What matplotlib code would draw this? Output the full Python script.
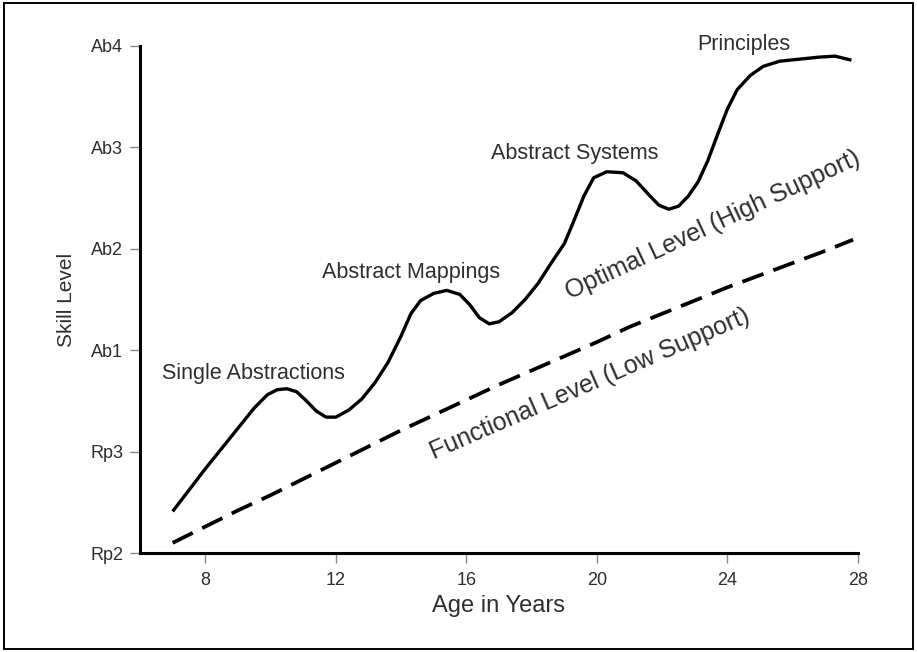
import matplotlib
matplotlib.use('Agg')
import matplotlib.pyplot as plt
from matplotlib.patches import Rectangle

plt.rcParams['font.family'] = ['Liberation Sans', 'DejaVu Sans']

# skill levels on the y axis (Rp2 .. Ab4 -> 0 .. 5)
level_names = ['Rp2', 'Rp3', 'Ab1', 'Ab2', 'Ab3', 'Ab4']
age_ticks = [8, 12, 16, 20, 24, 28]

# optimal level (high support)
opt_age = [7.0, 7.5, 8.0, 8.5, 9.0, 9.5, 9.9, 10.2, 10.5, 10.8, 11.1, 11.4, 11.7,
           12.0, 12.4, 12.8, 13.2, 13.6, 14.0, 14.3, 14.6, 15.0, 15.4, 15.8, 16.1,
           16.4, 16.7, 17.0, 17.4, 17.8, 18.2, 18.6, 19.0, 19.3, 19.6, 19.9, 20.3,
           20.8, 21.2, 21.6, 21.9, 22.2, 22.5, 22.8, 23.1, 23.4, 23.7, 24.0, 24.3,
           24.7, 25.1, 25.6, 26.2, 26.8, 27.3, 27.8]
opt_level = [0.41, 0.62, 0.83, 1.03, 1.23, 1.43, 1.56, 1.61, 1.62, 1.59, 1.50, 1.40, 1.34,
             1.34, 1.41, 1.52, 1.68, 1.88, 2.14, 2.36, 2.49, 2.56, 2.59, 2.55, 2.45,
             2.32, 2.26, 2.28, 2.37, 2.50, 2.66, 2.86, 3.05, 3.28, 3.52, 3.70, 3.76,
             3.75, 3.67, 3.53, 3.43, 3.39, 3.42, 3.52, 3.66, 3.87, 4.13, 4.38, 4.57,
             4.71, 4.80, 4.85, 4.87, 4.89, 4.90, 4.86]

# functional level (low support)
fun_age = [7.0, 8, 9, 10, 11, 12, 13, 14, 15, 16, 17, 18, 19, 20, 21, 22, 23, 24,
           25, 26, 27, 27.85]
fun_level = [0.10, 0.26, 0.42, 0.57, 0.73, 0.89, 1.05, 1.21, 1.36, 1.51, 1.66, 1.80,
             1.94, 2.08, 2.23, 2.36, 2.49, 2.62, 2.74, 2.86, 2.98, 3.09]

stage_names = ['Single Abstractions', 'Abstract Mappings', 'Abstract Systems', 'Principles']
stage_x = [9.48, 14.31, 19.33, 24.51]
stage_y = [1.77, 2.77, 3.94, 5.01]

txt = '#2e2e2e'

fig = plt.figure(figsize=(9.17, 6.52), dpi=100)
fig.patches.append(Rectangle((0.004, 0.005), 0.992, 0.99, transform=fig.transFigure,
                             fill=False, edgecolor='black', linewidth=1.4))
ax = fig.add_axes([140/917, 1 - 553/652, 718/917, 507/652])

ax.plot(opt_age, opt_level, color='black', lw=2.4, solid_capstyle='butt')
ax.plot(fun_age, fun_level, color='black', lw=2.7, dashes=(6, 2.8), dash_capstyle='butt')

for name, x, y in zip(stage_names, stage_x, stage_y):
    ax.text(x, y, name, ha='center', va='center', fontsize=15.5, color=txt)

ax.text(23.54, 3.23, 'Optimal Level (High Support)', rotation=25, rotation_mode='anchor',
        ha='center', va='center', fontsize=18, color=txt)
ax.text(19.8, 1.67, 'Functional Level (Low Support)', rotation=23.5, rotation_mode='anchor',
        ha='center', va='center', fontsize=18, color=txt)

ax.set_xlim(6, 28)
ax.set_ylim(0, 5)
ax.set_xticks(age_ticks)
ax.set_yticks(range(len(level_names)))
ax.set_yticklabels(level_names)
ax.tick_params(axis='both', direction='out', length=7, width=1, color='#888888',
               labelsize=13, labelcolor=txt, pad=5)
ax.tick_params(axis='x', pad=7)
for s in ['top', 'right']:
    ax.spines[s].set_visible(False)
for s in ['left', 'bottom']:
    ax.spines[s].set_linewidth(2.2)
ax.set_xlabel('Age in Years', fontsize=17, color=txt, labelpad=4)
ax.set_ylabel('Skill Level', fontsize=15, color=txt, labelpad=10)

plt.savefig('out.png', dpi=100)
